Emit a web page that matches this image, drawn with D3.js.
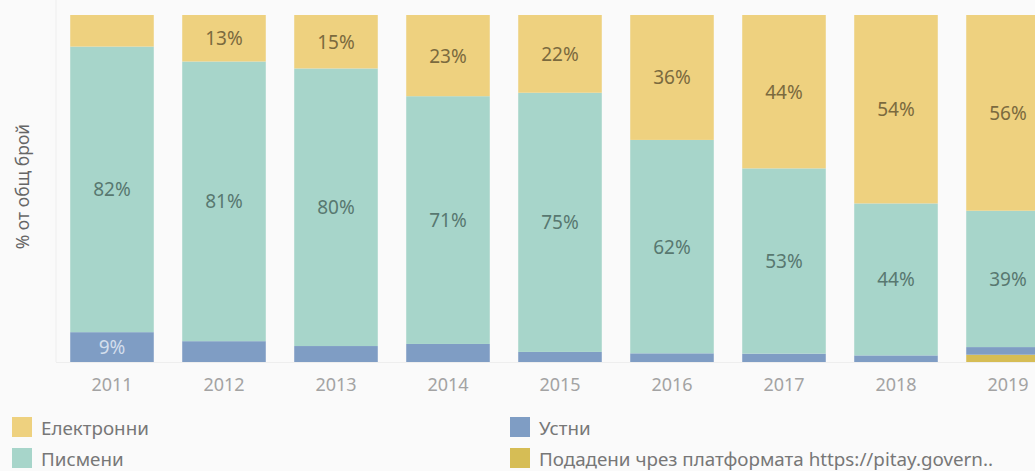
<!DOCTYPE html>
<html>
<head>
<meta charset="utf-8">
<script src="https://cdn.jsdelivr.net/npm/d3@7"></script>
<style>
  body { margin: 0; background: #fafafa; }
  svg { display: block; font-family: "Noto Sans", "Open Sans", sans-serif; }
</style>
</head>
<body>
<div class="chart"></div>
<script>
// Data (share of total, %)
const years = ['2011', '2012', '2013', '2014', '2015', '2016', '2017', '2018', '2019'];
const platform = [0, 0, 0, 0, 0, 0, 0, 0, 2.1];
const oral = [8.6, 6.0, 4.6, 5.2, 2.9, 2.5, 2.4, 1.9, 2.2];
const written = [82.3, 80.6, 80.0, 71.4, 74.7, 61.5, 53.4, 43.8, 39.3];
const electronic = [9.1, 13.4, 15.4, 23.4, 22.4, 36.0, 44.2, 54.3, 56.4];

const seriesNames = ['platform', 'oral', 'written', 'electronic'];
const legendLabels = {
    electronic: 'Електронни',
    written: 'Писмени',
    oral: 'Устни',
    platform: 'Подадени чрез платформата https://pitay.govern..'
};
// which segments carry a value label in the original
const labelled = {
    electronic: ['2012', '2013', '2014', '2015', '2016', '2017', '2018', '2019'],
    written: years,
    oral: ['2011'],
    platform: []
};

const width = 1035, height = 471;
const margin = { top: 15, bottom: 109, left: 56 };

const color = d3.scaleOrdinal()
    .domain(seriesNames)
    .range(['#d6bd55', '#7f9dc4', '#a7d5ca', '#eed17f']);
const textColor = {
    electronic: '#7b6a3e',
    written: '#587870',
    oral: '#d3deec',
    platform: '#666'
};

const rows = years.map((y, i) => ({
    year: y,
    platform: platform[i],
    oral: oral[i],
    written: written[i],
    electronic: electronic[i]
}));

const stack = d3.stack().keys(seriesNames);
const layers = stack(rows);

const svg = d3.select('.chart')
    .append('svg')
        .attr('width', width)
        .attr('height', height);

svg.append('rect')
    .attr('width', width)
    .attr('height', height)
    .attr('fill', '#fafafa');

const x = d3.scaleBand()
    .domain(years)
    .range([margin.left, margin.left + 1008])
    .paddingInner(0.254)
    .paddingOuter(0.127);

const y = d3.scaleLinear()
    .domain([0, 100])
    .range([height - margin.bottom, margin.top]);

// faint frame lines
svg.append('line')
    .attr('x1', margin.left).attr('x2', margin.left)
    .attr('y1', 0).attr('y2', y(0))
    .attr('stroke', '#eeeeee');
svg.append('line')
    .attr('x1', margin.left).attr('x2', width)
    .attr('y1', y(0) + 0.5).attr('y2', y(0) + 0.5)
    .attr('stroke', '#eeeeee');

// Bars
const groups = svg.append('g').attr('class', 'bars')
    .selectAll('g')
    .data(layers)
    .join('g')
        .attr('fill', d => color(d.key));

groups.selectAll('rect')
    .data(d => d)
    .join('rect')
        .attr('x', d => x(d.data.year))
        .attr('width', x.bandwidth())
        .attr('y', d => y(d[1]))
        .attr('height', d => y(d[0]) - y(d[1]));

// Value labels
const labels = svg.append('g').attr('class', 'labels');
layers.forEach(layer => {
    labels.selectAll(null)
        .data(layer.filter(d => labelled[layer.key].includes(d.data.year)))
        .join('text')
            .attr('x', d => x(d.data.year) + x.bandwidth() / 2)
            .attr('y', d => (y(d[0]) + y(d[1])) / 2)
            .attr('text-anchor', 'middle')
            .attr('dominant-baseline', 'central')
            .attr('font-size', 19)
            .attr('fill', textColor[layer.key])
            .text(d => Math.round(d[1] - d[0]) + '%');
});

// X axis
const xAxis = svg.append('g')
    .attr('transform', `translate(0,${y(0)})`)
    .call(d3.axisBottom(x).tickSize(0).tickPadding(16));
xAxis.select('.domain').remove();
xAxis.selectAll('text')
    .attr('font-size', 18)
    .attr('font-family', '"Noto Sans", "Open Sans", sans-serif')
    .attr('fill', '#a3a3a3');

// Y axis title
svg.append('text')
    .attr('transform', `translate(22,${(margin.top + y(0)) / 2 - 2}) rotate(-90)`)
    .attr('text-anchor', 'middle')
    .attr('dominant-baseline', 'central')
    .attr('font-size', 17.5)
    .attr('fill', '#666')
    .text('% от общ брой');

// Legend
const legendItems = [
    { key: 'electronic', col: 0, row: 0 },
    { key: 'written', col: 0, row: 1 },
    { key: 'oral', col: 1, row: 0 },
    { key: 'platform', col: 1, row: 1 }
];
const legend = svg.append('g').attr('class', 'legend')
    .selectAll('g')
    .data(legendItems)
    .join('g')
        .attr('transform', d => `translate(${d.col ? 510 : 12},${417 + d.row * 31})`);

legend.append('rect')
    .attr('width', 20)
    .attr('height', 20)
    .attr('fill', d => color(d.key));

legend.append('text')
    .attr('x', 29)
    .attr('y', 11)
    .attr('dominant-baseline', 'central')
    .attr('font-size', 18.8)
    .attr('fill', '#777')
    .text(d => legendLabels[d.key]);
</script>
</body>
</html>
